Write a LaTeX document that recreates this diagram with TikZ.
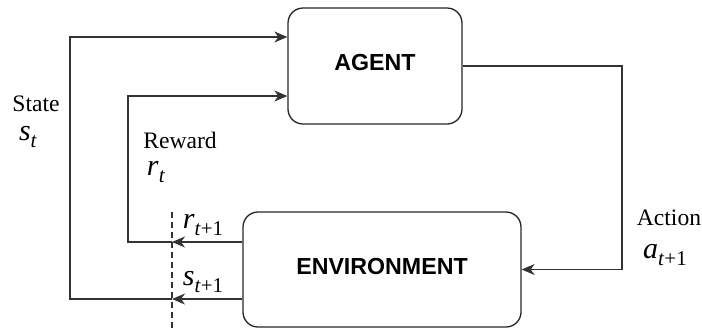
\documentclass[tikz,border=0pt]{standalone}
\usepackage{fontspec}
\setmainfont{Liberation Serif}
\newfontfamily\boxfont{Liberation Sans}
\usetikzlibrary{arrows.meta}
\newcommand\mvar[2]{{\fontsize{15}{15}\selectfont\textit{#1}}\raisebox{-3.5pt}{\fontsize{10.5}{10.5}\selectfont #2}}
\begin{document}
\begin{tikzpicture}[x=0.5pt,y=-0.5pt,
  box/.style={draw=black!85, line width=0.65pt, rounded corners=7.5pt, font=\boxfont\bfseries\fontsize{11.6}{12}\selectfont},
  conn/.style={draw=black!80, line width=0.65pt},
  arr/.style={conn, -{Stealth[length=6.5pt,width=5.5pt,inset=2pt]}},
  txt/.style={font=\fontsize{11.8}{12}\selectfont, inner sep=0pt},
  mth/.style={inner sep=0pt}]
\useasboundingbox (0,0) rectangle (702,329);
\node[box, minimum width=87pt, minimum height=58pt] (agent) at (375,66) {\raisebox{3.5pt}{AGENT}};
\node[box, minimum width=139pt, minimum height=57.5pt] (env) at (382,269.5) {\raisebox{3pt}{ENVIRONMENT}};
% action
\coordinate (ax) at (622,0);
\draw[arr] (agent.east) -- (ax |- agent.east) -- (ax |- env.east) -- (env.east);
% dashed separator
\coordinate (dtop) at (172,212);
\coordinate (dbot) at (172,329);
\draw[conn, dash pattern=on 3pt off 2pt] (dtop) -- (dbot);
% reward path
\coordinate (rx) at (128,0);
\coordinate (re) at ([yshift=13.75pt]env.west);
\coordinate (rd) at (dtop |- re);
\coordinate (ra) at ([yshift=-15pt]agent.west);
\draw[arr] (re) -- (rd);
\draw[arr] (rd) -- (rx |- rd) -- (rx |- ra) -- (ra);
% state path
\coordinate (sx) at (70,0);
\coordinate (se) at ([yshift=-14.75pt]env.west);
\coordinate (sd) at (dtop |- se);
\coordinate (sa) at ([yshift=14.5pt]agent.west);
\draw[arr] (se) -- (sd);
\draw[arr] (sd) -- (sx |- sd) -- (sx |- sa) -- (sa);
% labels
\node[txt] (statel) at (36,104) {State};
\node[mth] (stl) at (28,137) {\mvar{s}{\textit{t}}};
\node[txt] (rewl) at (180,140) {Reward};
\node[mth] (rtl) at (156,172) {\mvar{r}{\textit{t}}};
\node[mth] (rt1) at (203,225) {\mvar{r}{\textit{t}+1}};
\node[mth] (st1) at (203,282) {\mvar{s}{\textit{t}+1}};
\node[txt] (actl) at (669,218) {Action};
\node[mth] (at1) at (665,255) {\mvar{a}{\textit{t}+1}};
\end{tikzpicture}
\end{document}
